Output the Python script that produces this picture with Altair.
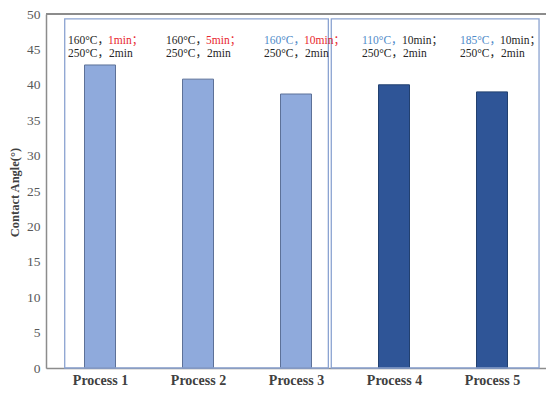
import altair as alt
import pandas as pd

# ---- data ----
processes = ["Process 1", "Process 2", "Process 3", "Process 4", "Process 5"]
process_pos = [1, 2, 3, 4, 5]
contact_angle = [42.8, 40.8, 38.7, 40.0, 39.0]
bar_group = ["light", "light", "light", "dark", "dark"]
temp1 = ["160°C，", "160°C，", "160°C，", "110°C，", "185°C，"]
temp1_color = ["black", "black", "blue", "blue", "blue"]
time1 = ["1min；", "5min；", "10min；", "10min；", "10min；"]
time1_color = ["red", "red", "red", "black", "black"]
line2 = ["250°C，2min"] * 5

# group frames (data units)
box_x_start = [0.64, 3.36]
box_x_end = [3.33, 5.48]
box_y_top = [49.3, 49.3]

y_ticks = [0, 5, 10, 15, 20, 25, 30, 35, 40, 45, 50]

df = pd.DataFrame({
    "process": processes,
    "pos": process_pos,
    "angle": contact_angle,
    "group": bar_group,
    "temp1": temp1,
    "temp1_color": temp1_color,
    "time1": time1,
    "time1_color": time1_color,
    "line2": line2,
})
boxes = pd.DataFrame({"x1": box_x_start, "x2": box_x_end, "y2": box_y_top})

xscale = alt.Scale(domain=[0.5, 5.5], nice=False, zero=False)
yscale = alt.Scale(domain=[0, 50], nice=False)

label_expr = "['', 'Process 1','Process 2','Process 3','Process 4','Process 5'][datum.value]"

x_axis = alt.Axis(values=process_pos, labelExpr=label_expr, title=None,
                  ticks=False, grid=False, domainColor="#8c8c8c",
                  domainWidth=1.5, labelFont="Liberation Serif",
                  labelFontWeight="bold", labelFontSize=14,
                  labelColor="#404040", labelPadding=5,
                  labelOverlap=False)
y_axis = alt.Axis(values=y_ticks, title="Contact Angle(°)", ticks=False,
                  grid=False, domainColor="#8c8c8c", domainWidth=1.5,
                  labelFont="Liberation Serif", labelFontSize=13.5,
                  labelColor="#595959", labelPadding=6,
                  labelOverlap=False,
                  titleFont="Liberation Serif", titleFontWeight="bold",
                  titleFontSize=12.5, titleColor="#404040",
                  titleX=-32, titleY=178, titleAngle=270,
                  titleAlign="center", titleBaseline="middle")

bars = alt.Chart(df).mark_bar(size=31, strokeWidth=1).encode(
    x=alt.X("pos:Q", scale=xscale, axis=x_axis),
    y=alt.Y("angle:Q", scale=yscale, axis=y_axis),
    fill=alt.Fill("group:N", scale=alt.Scale(domain=["light", "dark"],
                                             range=["#8faadc", "#2f5597"]),
                  legend=None),
    stroke=alt.Stroke("group:N", scale=alt.Scale(domain=["light", "dark"],
                                                 range=["#5d7198", "#22406f"]),
                      legend=None),
)

frames = alt.Chart(boxes).mark_rect(
    fill=None, stroke="#8ba3d1", strokeWidth=1.3
).encode(
    x=alt.X("x1:Q", scale=xscale, axis=x_axis),
    x2="x2:Q",
    y=alt.Y("y1:Q", scale=yscale, axis=y_axis),
    y2="y2:Q",
).transform_calculate(y1="0")

top_line = alt.Chart(df).mark_rule(color="#8c8c8c", strokeWidth=1.5).encode(
    y=alt.YDatum(50, scale=yscale, axis=y_axis),
    x=alt.value(0),
    x2=alt.value(600),
)

color_scale = alt.Scale(domain=["black", "red", "blue"],
                        range=["#262626", "#e8282e", "#4f8bc9"])

txt_font = dict(font="Liberation Serif, 'Noto Sans CJK SC'", fontSize=11.5)

seg1 = alt.Chart(df).mark_text(align="left", baseline="middle", dx=-32, **txt_font).encode(
    x=alt.X("pos:Q", scale=xscale, axis=x_axis),
    y=alt.YDatum(46.2, scale=yscale, axis=y_axis),
    text="temp1:N",
    color=alt.Color("temp1_color:N", scale=color_scale, legend=None),
)
seg2 = alt.Chart(df).mark_text(align="left", baseline="middle", dx=8, **txt_font).encode(
    x=alt.X("pos:Q", scale=xscale, axis=x_axis),
    y=alt.YDatum(46.2, scale=yscale, axis=y_axis),
    text="time1:N",
    color=alt.Color("time1_color:N", scale=color_scale, legend=None),
)
seg3 = alt.Chart(df).mark_text(align="left", baseline="middle", dx=-32,
                               color="#262626", **txt_font).encode(
    x=alt.X("pos:Q", scale=xscale, axis=x_axis),
    y=alt.YDatum(44.4, scale=yscale, axis=y_axis),
    text="line2:N",
)

chart = alt.layer(bars, frames, top_line, seg1, seg2, seg3).properties(
    width=500, height=354,
    autosize=alt.AutoSizeParams(type="none"),
    padding={"left": 38, "top": 6, "right": 0, "bottom": 18},
).configure_view(stroke=None).configure(background="white")

chart.save("out.html", embed_options={"renderer": "svg", "actions": False})
